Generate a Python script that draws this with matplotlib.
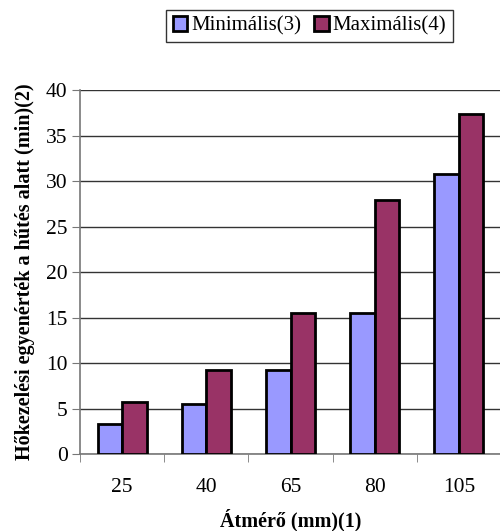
import matplotlib.pyplot as plt
import numpy as np
from matplotlib.patches import Patch

kategoriak = ["25", "40", "65", "80", "105"]
minimalis = [3.3, 5.5, 9.2, 15.5, 30.8]
maximalis = [5.7, 9.2, 15.5, 27.9, 37.4]

plt.rcParams['font.family'] = ['Liberation Serif', 'DejaVu Serif']

fig = plt.figure(figsize=(5.0, 5.31), dpi=100)
ax = fig.add_axes([0.16, 0.145, 0.842, 0.6855])

x = np.arange(len(kategoriak))
w = 0.29
szin_min = '#9999FF'
szin_max = '#993366'

ax.bar(x - w / 2, minimalis, w, color=szin_min, edgecolor='black', linewidth=2, zorder=3)
ax.bar(x + w / 2, maximalis, w, color=szin_max, edgecolor='black', linewidth=2, zorder=3)

ax.set_xlim(-0.5, len(kategoriak) - 0.5)
ax.set_ylim(0, 40)
ax.set_yticks(np.arange(0, 41, 5))
ax.yaxis.grid(True, color='#333333', linewidth=1, zorder=0)

ax.set_xticks(x)
ax.set_xticklabels(kategoriak)
ax.set_xticks(np.arange(-0.5, len(kategoriak)), minor=True)
ax.tick_params(axis='x', which='major', length=0, pad=17, labelsize=15.5)
ax.tick_params(axis='x', which='minor', length=6, color='#777777', direction='out')
ax.tick_params(axis='y', length=6, color='#777777', labelsize=15.5, pad=3)

for s in ['top', 'right']:
    ax.spines[s].set_visible(False)
for s in ['left', 'bottom']:
    ax.spines[s].set_color('#777777')
    ax.spines[s].set_linewidth(1.2)

ax.set_xlabel('Átmérő (mm)(1)', fontsize=14.5, fontweight='bold', labelpad=9)
ax.set_ylabel('Hőkezelési egyenérték a hűtés alatt (min)(2)', fontsize=14.5,
              fontweight='bold', labelpad=8)

kezelok = [Patch(facecolor=szin_min, edgecolor='black', linewidth=2),
           Patch(facecolor=szin_max, edgecolor='black', linewidth=2)]
leg = fig.legend(kezelok, ['Minimális(3)', 'Maximális(4)'], loc='center',
                 bbox_to_anchor=(0.619, 0.951), ncol=2, fontsize=15,
                 frameon=True, fancybox=False, handlelength=0.7, handleheight=0.7,
                 handletextpad=0.2, columnspacing=0.6, borderpad=0.3,
                 borderaxespad=0)
leg.get_frame().set_edgecolor('black')
leg.get_frame().set_linewidth(1)

fig.savefig('out.png', dpi=100)
